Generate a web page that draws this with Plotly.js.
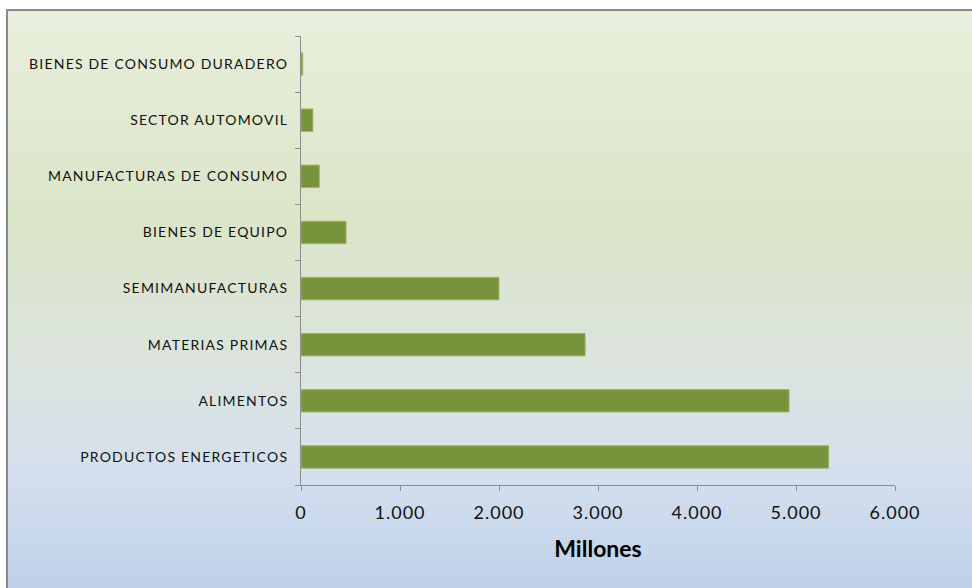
<!DOCTYPE html>
<html>
<head>
<meta charset="utf-8">
<script src="https://cdn.plot.ly/plotly-3.0.1.min.js"></script>
<style>
  html, body { margin: 0; padding: 0; background: #ffffff; width: 972px; height: 588px; overflow: hidden; }
  #frame {
    position: absolute; left: 6px; top: 9px; width: 980px; height: 600px;
    border: 2px solid #8a8a8a; box-sizing: border-box;
    background: linear-gradient(to bottom, #e8efdc 0%, #dbe5c8 35%, #dce4df 60%, #d4dfee 78%, #bacee8 100%);
  }
  #chart { position: absolute; left: 0; top: 0; width: 972px; height: 588px; }
  #chart .ytick text { letter-spacing: 1.2px; }
  #chart .xtick text { letter-spacing: 1px; }
</style>
</head>
<body>
<div id="frame"></div>
<div id="chart"></div>
<script>
// Categories from bottom to top
const categories = [
  "PRODUCTOS ENERGETICOS",
  "ALIMENTOS",
  "MATERIAS PRIMAS",
  "SEMIMANUFACTURAS",
  "BIENES DE EQUIPO",
  "MANUFACTURAS DE CONSUMO",
  "SECTOR AUTOMOVIL",
  "BIENES DE CONSUMO DURADERO"
];
const values = [5330, 4930, 2870, 2000, 455, 185, 120, 18];
const xTickVals = [0, 1000, 2000, 3000, 4000, 5000, 6000];
const xTickText = ["0", "1.000", "2.000", "3.000", "4.000", "5.000", "6.000"];
const xTitle = "Millones";

const trace = {
  type: "bar",
  orientation: "h",
  y: categories,
  x: values,
  marker: { color: "#77933c", line: { color: "#9bbb59", width: 1 } },
  hoverinfo: "x+y"
};

const layout = {
  width: 972, height: 588,
  paper_bgcolor: "rgba(0,0,0,0)",
  plot_bgcolor: "rgba(0,0,0,0)",
  margin: { l: 301, r: 77, t: 36, b: 103 },
  showlegend: false,
  bargap: 0.6,
  font: { family: "Lato, 'Open Sans', sans-serif", color: "#000" },
  xaxis: {
    range: [0, 6000],
    tickvals: xTickVals,
    ticktext: xTickText,
    showgrid: false,
    zeroline: false,
    showline: true,
    linecolor: "#8c8c8c",
    linewidth: 1,
    ticks: "outside",
    ticklen: 5,
    tickcolor: "#8c8c8c",
    ticklabelstandoff: 6,
    tickfont: { size: 18, family: "Lato, sans-serif", color: "#111" },
    title: { text: xTitle, font: { size: 23, family: "Lato, sans-serif", color: "#000", weight: "bold" }, standoff: 19 },
    fixedrange: true
  },
  yaxis: {
    type: "category",
    showgrid: false,
    zeroline: false,
    showline: true,
    linecolor: "#8c8c8c",
    linewidth: 1,
    ticks: "outside",
    tickson: "boundaries",
    ticklen: 5,
    tickcolor: "#8c8c8c",
    ticklabelstandoff: 9,
    tickfont: { size: 14, family: "Lato, sans-serif", color: "#111" },
    fixedrange: true
  }
};

Plotly.newPlot("chart", [trace], layout, { displayModeBar: false, staticPlot: true });
</script>
</body>
</html>
